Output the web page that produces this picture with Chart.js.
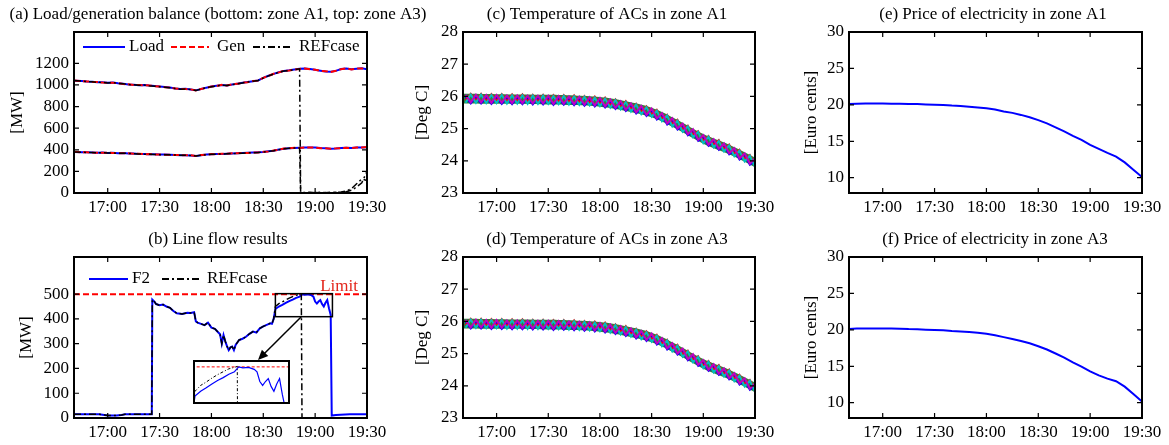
<!DOCTYPE html>
<html lang="en">
<head>
<meta charset="UTF-8">
<title>Load, line flow, AC temperature and price</title>
<script src="https://cdn.jsdelivr.net/npm/chart.js"></script>
<style>
  html, body { margin: 0; padding: 0; background: #fff; }
  #fig { position: relative; width: 1169px; height: 445px; overflow: hidden; }
  #fig canvas { position: absolute; }
</style>
</head>
<body>
<div id="fig">
  <canvas id="cA"></canvas>
  <canvas id="cB"></canvas>
  <canvas id="cInset"></canvas>
  <canvas id="cC"></canvas>
  <canvas id="cD"></canvas>
  <canvas id="cE"></canvas>
  <canvas id="cF"></canvas>
</div>
<script>
// time is in minutes after 17:00
const X_MIN = -19.5, X_MAX = 150;
const xTicks = [0, 30, 60, 90, 120, 150];

// (a) load / generation, 3-minute samples
const loadTimes = [-19.5, -15, -12, -9, -6, -3, 0, 3, 6, 9, 12, 15, 18, 21, 24, 27, 30, 33, 36, 39, 42, 45, 48, 51, 54, 57,
  60, 63, 66, 69, 72, 75, 78, 81, 84, 87, 90, 93, 96, 99, 102, 105, 108, 111, 114, 117, 120, 123, 126, 129, 132, 135,
  138, 141, 144, 147, 150];
const loadA3 = [1040, 1036, 1032, 1030, 1026, 1024, 1020, 1022, 1015, 1010, 1005, 1002, 998, 1000, 994, 990, 985, 980,
  976, 968, 962, 964, 958, 950, 962, 975, 985, 992, 1000, 996, 1005, 1012, 1020, 1028, 1035, 1042, 1065, 1085, 1102,
  1118, 1130, 1135, 1142, 1150, 1152, 1148, 1140, 1132, 1125, 1122, 1130, 1148, 1152, 1146, 1150, 1155, 1145];
const genA3 = [1042, 1034, 1033, 1028, 1027, 1022, 1021, 1020, 1016, 1008, 1006, 1000, 999, 998, 995, 988, 986, 978,
  977, 966, 963, 962, 959, 948, 963, 973, 986, 990, 1001, 994, 1006, 1010, 1021, 1026, 1036, 1040, 1066, 1083, 1103,
  1116, 1131, 1133, 1143, 1148, 1153, 1146, 1141, 1130, 1126, 1120, 1131, 1146, 1153, 1144, 1151, 1153, 1146];
const loadA1 = [380, 378, 376, 375, 372, 374, 371, 372, 368, 370, 366, 365, 362, 360, 359, 358, 356, 356, 354, 352,
  350, 350, 348, 343, 350, 356, 359, 360, 362, 364, 366, 368, 370, 372, 374, 376, 380, 386, 392, 402, 410, 415, 417,
  418, 420, 422, 420, 416, 414, 410, 412, 416, 418, 416, 420, 422, 424];
const genA1 = [381, 377, 377, 374, 373, 373, 372, 371, 369, 369, 367, 364, 363, 359, 360, 357, 357, 355, 355, 351,
  351, 349, 349, 342, 351, 355, 360, 359, 363, 363, 367, 367, 371, 371, 375, 375, 381, 385, 393, 401, 411, 414, 418,
  417, 421, 421, 421, 415, 415, 409, 413, 415, 419, 415, 421, 421, 425];
const refTimes = [-19.5, -15, -12, -9, -6, -3, 0, 3, 6, 9, 12, 15, 18, 21, 24, 27, 30, 33, 36, 39, 42, 45, 48, 51, 54, 57,
  60, 63, 66, 69, 72, 75, 78, 81, 84, 87, 90, 93, 96, 99, 102, 105, 108, 111, 111.6, 114, 117, 120, 123, 126, 129, 132,
  135, 138, 141, 144, 147, 150];
const refA3 = [1041, 1035, 1031, 1029, 1025, 1023, 1019, 1021, 1014, 1011, 1004, 1001, 997, 999, 993, 989, 984, 979,
  975, 967, 961, 963, 957, 949, 961, 974, 984, 991, 999, 995, 1004, 1011, 1019, 1027, 1034, 1041, 1064, 1084, 1101,
  1117, 1129, 1134, 1141, 1149, 8, 4, 7, 3, 6, 2, 7, 4, 9, 18, 40, 85, 130, 115];
const refA1 = [379, 377, 375, 374, 371, 373, 370, 371, 367, 369, 365, 364, 361, 359, 358, 357, 355, 355, 353, 351,
  349, 349, 347, 342, 349, 355, 358, 359, 361, 363, 365, 367, 369, 371, 373, 375, 379, 385, 391, 401, 409, 414, 416,
  417, 3, 2, 1, 5, 2, 4, 1, 6, 3, 12, 25, 55, 95, 200];

// (b) line flow
const flowTimes = [-19.5, -5, -2, 0, 5, 8, 10, 25.5, 25.8, 27, 28, 30, 32, 34, 36, 38, 40, 43, 46, 48, 50, 51, 52, 54,
  56, 58, 60, 62, 64, 65, 66, 67, 68, 69, 70, 71, 72, 73, 74, 76, 78, 80, 82, 84, 86, 88, 90, 92, 94, 95, 96, 97, 99,
  101, 103, 105, 107, 109, 111, 112.5, 114, 116, 118, 119, 120, 121, 122, 123, 124, 125, 126, 127, 128, 129, 129.6,
  132, 140, 150];
const flowF2 = [15, 15, 12, 10, 10, 12, 15, 15, 478, 470, 460, 455, 458, 450, 445, 432, 423, 420, 425, 424, 427, 390,
  385, 380, 375, 385, 365, 360, 345, 338, 300, 335, 310, 290, 274, 285, 288, 274, 295, 315, 320, 328, 340, 349, 345,
  362, 370, 376, 382, 380, 400, 440, 450, 457, 465, 472, 478, 485, 490, 500, 498, 499, 495, 490, 470, 462, 470, 476,
  460, 450, 465, 476, 443, 416, 10, 12, 15, 15];
const refFlowTimes = [-19.5, -5, -2, 0, 5, 8, 10, 25.5, 25.8, 27, 28, 30, 32, 34, 36, 38, 40, 43, 46, 48, 50, 51, 52,
  54, 56, 58, 60, 62, 64, 65, 66, 67, 68, 69, 70, 71, 72, 73, 74, 76, 78, 80, 82, 84, 86, 88, 90, 92, 94, 95, 96, 97,
  99, 101, 103, 105, 107, 109, 111, 112, 112.4, 150];
const refFlow = [15, 15, 12, 10, 10, 12, 15, 15, 478, 470, 460, 455, 458, 450, 445, 432, 423, 420, 425, 424, 427, 390,
  385, 380, 375, 385, 365, 360, 345, 338, 300, 335, 310, 290, 274, 285, 288, 274, 295, 315, 320, 328, 340, 349, 345,
  362, 370, 376, 382, 380, 400, 450, 462, 469, 477, 484, 490, 496, 499, 501, 0, 0];
const limitTimes = [X_MIN, X_MAX];
const limitVals = [500, 500];
const zoomX = [97, 130];      // boxed window in (b)
const zoomY = [409, 502];
const insetY = [428, 510];    // value range shown in the inset

// (c), (d) AC temperatures
const tempTimes = [-18, -15, -12, -9, -6, -3, 0, 3, 6, 9, 12, 15, 18, 21, 24, 27, 30, 33, 36, 39, 42, 45, 48, 51, 54,
  57, 60, 63, 66, 69, 72, 75, 78, 81, 84, 87, 90, 93, 96, 99, 102, 105, 108, 111, 114, 117, 120, 123, 126, 129, 132,
  135, 138, 141, 144, 147, 150];
const tempMagenta = [26.05, 25.81, 26.05, 25.81, 26.04, 25.80, 26.04, 25.80, 26.03, 25.79, 26.03, 25.79, 26.02, 25.78,
  26.02, 25.78, 26.02, 25.77, 26.01, 25.77, 26.00, 25.76, 25.99, 25.74, 25.97, 25.72, 25.95, 25.69, 25.90, 25.64,
  25.85, 25.58, 25.78, 25.50, 25.70, 25.42, 25.62, 25.31, 25.48, 25.16, 25.32, 25.00, 25.15, 24.82, 24.98, 24.65,
  24.80, 24.50, 24.67, 24.37, 24.54, 24.23, 24.39, 24.07, 24.23, 23.91, 24.07];
const tempCyan = [25.80, 26.06, 25.80, 26.06, 25.79, 26.05, 25.79, 26.05, 25.78, 26.04, 25.78, 26.04, 25.77, 26.03,
  25.77, 26.03, 25.77, 26.02, 25.76, 26.02, 25.75, 26.01, 25.74, 25.99, 25.72, 25.97, 25.70, 25.94, 25.65, 25.89,
  25.60, 25.83, 25.53, 25.75, 25.45, 25.67, 25.37, 25.56, 25.23, 25.41, 25.07, 25.25, 24.90, 25.07, 24.73, 24.90,
  24.55, 24.75, 24.42, 24.62, 24.29, 24.48, 24.14, 24.32, 23.98, 24.16, 23.82];
const tempBlue = [25.97, 25.77, 25.97, 25.77, 25.96, 25.76, 25.96, 25.76, 25.95, 25.75, 25.95, 25.75, 25.94, 25.74,
  25.94, 25.74, 25.94, 25.73, 25.93, 25.73, 25.92, 25.72, 25.91, 25.70, 25.89, 25.68, 25.87, 25.65, 25.82, 25.60,
  25.77, 25.54, 25.70, 25.46, 25.62, 25.38, 25.54, 25.27, 25.40, 25.12, 25.24, 24.96, 25.07, 24.78, 24.90, 24.61,
  24.72, 24.46, 24.59, 24.33, 24.46, 24.19, 24.31, 24.03, 24.15, 23.87, 23.99];
const tempRed = [25.88, 26.09, 25.88, 26.09, 25.87, 26.08, 25.87, 26.08, 25.86, 26.07, 25.86, 26.07, 25.85, 26.06,
  25.85, 26.06, 25.85, 26.05, 25.84, 26.05, 25.83, 26.04, 25.82, 26.02, 25.80, 26.00, 25.78, 25.97, 25.73, 25.92,
  25.68, 25.86, 25.61, 25.78, 25.53, 25.70, 25.45, 25.59, 25.31, 25.44, 25.15, 25.28, 24.98, 25.10, 24.81, 24.93,
  24.63, 24.78, 24.50, 24.65, 24.37, 24.51, 24.22, 24.35, 24.06, 24.19, 23.90];
const bandTimes = [-19.5, 0, 30, 45, 60, 75, 90, 105, 120, 135, 150];
const bandHi = [26.08, 26.07, 26.05, 26.03, 25.98, 25.85, 25.65, 25.27, 24.83, 24.50, 24.10];
const bandLo = [25.78, 25.77, 25.75, 25.73, 25.68, 25.55, 25.35, 24.97, 24.53, 24.20, 23.80];

// (e), (f) price
const priceTimes = [-20, -15, -10, -5, 0, 5, 10, 15, 20, 25, 30, 35, 40, 45, 50, 55, 60, 65, 70, 75, 80, 85, 90, 95,
  100, 105, 110, 115, 120, 125, 130, 135, 140, 145, 150];
const priceA1 = [20.10, 20.15, 20.20, 20.18, 20.20, 20.15, 20.16, 20.12, 20.10, 20.05, 20.02, 19.98, 19.90, 19.85,
  19.75, 19.65, 19.52, 19.35, 19.10, 18.90, 18.62, 18.30, 17.90, 17.45, 16.90, 16.35, 15.75, 15.20, 14.50, 13.95,
  13.40, 12.90, 12.10, 11.10, 10.10];
const priceA3 = [20.12, 20.18, 20.20, 20.20, 20.20, 20.18, 20.15, 20.10, 20.08, 20.02, 19.98, 19.95, 19.85, 19.78,
  19.70, 19.60, 19.45, 19.25, 19.00, 18.75, 18.48, 18.15, 17.75, 17.30, 16.75, 16.20, 15.55, 14.95, 14.30, 13.75,
  13.30, 12.95, 12.20, 11.20, 10.15];

const FONT = '"Liberation Serif", "Times New Roman", serif';
const DASH = [6, 3];
const DASHDOT = [7, 3, 2, 3];

function xy(ts, vs) {
    return ts.map((t, i) => ({ x: t, y: vs[i] }));
}

function ln(data, color, width, dash, more) {
    return Object.assign({
        data: data, borderColor: color, borderWidth: width, borderDash: dash || [],
        pointRadius: 0, fill: false, tension: 0
    }, more || {});
}

function hhmm(v) {
    const m = 17 * 60 + v;
    return Math.floor(m / 60) + ':' + String(m % 60).padStart(2, '0');
}

// page-coordinate layout of titles, y labels and legends
const cfgs = {
    cA: { title: '(a) Load/generation balance (bottom: zone A1, top: zone A3)', tx: 218, ty: 15, ylab: '[MW]', yx: 18,
          legend: { y: 47, items: [
              { text: 'Load', color: '#0000ff', dash: [], x1: 83, x2: 125, tx: 129 },
              { text: 'Gen', color: '#ff0000', dash: DASH, x1: 171, x2: 209, tx: 217 },
              { text: 'REFcase', color: '#000', dash: DASHDOT, x1: 253, x2: 293, tx: 299 }] } },
    cB: { title: '(b) Line flow results', tx: 218, ty: 240, ylab: '[MW]', yx: 27,
          legend: { y: 279, items: [
              { text: 'F2', color: '#0000ff', dash: [], x1: 89, x2: 128, tx: 132 },
              { text: 'REFcase', color: '#000', dash: DASHDOT, x1: 162, x2: 202, tx: 207 }] },
          extra: drawZoomMarks },
    cC: { title: '(c) Temperature of ACs in zone A1', tx: 607, ty: 15, ylab: '[Deg C]', yx: 423 },
    cD: { title: '(d) Temperature of ACs in zone A3', tx: 607, ty: 240, ylab: '[Deg C]', yx: 423 },
    cE: { title: '(e) Price of electricity in zone A1', tx: 993, ty: 15, ylab: '[Euro cents]', yx: 812 },
    cF: { title: '(f) Price of electricity in zone A3', tx: 995, ty: 240, ylab: '[Euro cents]', yx: 812 }
};

function drawZoomMarks(chart, ctx, ox, oy) {
    const sx = chart.scales.x, sy = chart.scales.y;
    ctx.fillStyle = '#e3261b';
    ctx.font = '17px ' + FONT;
    ctx.textAlign = 'right';
    ctx.textBaseline = 'middle';
    ctx.fillText('Limit', chart.chartArea.right - 9, sy.getPixelForValue(limitVals[0]) - 8);

    const x1 = sx.getPixelForValue(zoomX[0]), x2 = sx.getPixelForValue(zoomX[1]);
    const y1 = sy.getPixelForValue(zoomY[1]), y2 = sy.getPixelForValue(zoomY[0]);
    ctx.strokeStyle = '#000';
    ctx.lineWidth = 1.5;
    ctx.setLineDash([]);
    ctx.strokeRect(x1, y1, x2 - x1, y2 - y1);

    // arrow down to the inset
    const ax = sx.getPixelForValue(112), ay = y2;
    const bx = 258 - ox, by = 360 - oy;
    const ang = Math.atan2(by - ay, bx - ax);
    ctx.beginPath();
    ctx.moveTo(ax, ay);
    ctx.lineTo(bx - 8 * Math.cos(ang), by - 8 * Math.sin(ang));
    ctx.stroke();
    ctx.fillStyle = '#000';
    ctx.beginPath();
    ctx.moveTo(bx, by);
    ctx.lineTo(bx - 10 * Math.cos(ang) + 4.5 * Math.sin(ang), by - 10 * Math.sin(ang) - 4.5 * Math.cos(ang));
    ctx.lineTo(bx - 10 * Math.cos(ang) - 4.5 * Math.sin(ang), by - 10 * Math.sin(ang) + 4.5 * Math.cos(ang));
    ctx.closePath();
    ctx.fill();
}

// matlab style box, inward ticks, title, y label and legend
const frame = {
    id: 'frame',
    afterDraw(chart) {
        const c = cfgs[chart.canvas.id];
        if (!c) return;
        const ctx = chart.ctx, a = chart.chartArea, sx = chart.scales.x, sy = chart.scales.y;
        const ox = c.left, oy = c.top;
        ctx.save();
        if (c.extra) c.extra(chart, ctx, ox, oy);

        ctx.setLineDash([]);
        ctx.strokeStyle = '#000';
        ctx.lineWidth = 2;
        ctx.strokeRect(a.left, a.top, a.right - a.left, a.bottom - a.top);
        ctx.lineWidth = 1.2;
        ctx.beginPath();
        sx.ticks.forEach(t => {
            const p = sx.getPixelForValue(t.value);
            ctx.moveTo(p, a.bottom); ctx.lineTo(p, a.bottom - 5);
            ctx.moveTo(p, a.top); ctx.lineTo(p, a.top + 5);
        });
        sy.ticks.forEach(t => {
            const p = sy.getPixelForValue(t.value);
            ctx.moveTo(a.left, p); ctx.lineTo(a.left + 5, p);
            ctx.moveTo(a.right, p); ctx.lineTo(a.right - 5, p);
        });
        ctx.stroke();

        ctx.fillStyle = '#000';
        ctx.font = '17px ' + FONT;
        ctx.textAlign = 'center';
        ctx.textBaseline = 'middle';
        ctx.fillText(c.title, c.tx - ox, c.ty - oy);
        ctx.save();
        ctx.translate(c.yx - ox, (a.top + a.bottom) / 2);
        ctx.rotate(-Math.PI / 2);
        ctx.fillText(c.ylab, 0, 0);
        ctx.restore();

        if (c.legend) {
            const ly = c.legend.y - oy;
            c.legend.items.forEach(it => {
                ctx.strokeStyle = it.color;
                ctx.lineWidth = 2;
                ctx.setLineDash(it.dash);
                ctx.beginPath();
                ctx.moveTo(it.x1 - ox, ly);
                ctx.lineTo(it.x2 - ox, ly);
                ctx.stroke();
                ctx.fillStyle = '#000';
                ctx.textAlign = 'left';
                ctx.fillText(it.text, it.tx - ox, ly);
            });
        }
        ctx.restore();
    }
};

function panel(id, left, top, w, h, pad, yMin, yMax, yTicks, datasets) {
    const cv = document.getElementById(id);
    cv.width = w;
    cv.height = h;
    cv.style.left = left + 'px';
    cv.style.top = top + 'px';
    cfgs[id].left = left;
    cfgs[id].top = top;
    const tickFont = { family: FONT, size: 17 };
    return new Chart(cv, {
        type: 'line',
        data: { datasets: datasets },
        options: {
            responsive: false,
            animation: false,
            devicePixelRatio: 1,
            layout: { padding: pad },
            plugins: { legend: { display: false }, tooltip: { enabled: false } },
            scales: {
                x: {
                    type: 'linear', min: X_MIN, max: X_MAX,
                    grid: { display: false, drawTicks: false }, border: { display: false },
                    afterBuildTicks: s => { s.ticks = xTicks.map(v => ({ value: v })); },
                    afterFit: s => { s.height = 26; s.paddingLeft = 0; s.paddingRight = 0; },
                    ticks: { padding: 4, maxRotation: 0, autoSkip: false, color: '#000', font: tickFont,
                             callback: v => hhmm(v) }
                },
                y: {
                    type: 'linear', min: yMin, max: yMax,
                    grid: { display: false, drawTicks: false }, border: { display: false },
                    afterBuildTicks: s => { s.ticks = yTicks.map(v => ({ value: v })); },
                    afterFit: s => { s.width = 60; s.paddingTop = 0; s.paddingBottom = 0; },
                    ticks: { padding: 5, autoSkip: false, color: '#000', font: tickFont, callback: v => String(v) }
                }
            }
        },
        plugins: [frame]
    });
}

function tempSets() {
    return [
        ln(xy(tempTimes, tempMagenta), '#c000c0', 2),
        ln(xy(tempTimes, tempCyan), '#00bfbf', 2),
        ln(xy(tempTimes, tempRed), '#ff0000', 1.6),
        ln(xy(tempTimes, tempBlue), '#0000ff', 1.6),
        ln(xy(bandTimes, bandHi), 'rgba(0,0,0,0)', 0, [], { fill: '+1', backgroundColor: '#2f8040', tension: 0.4 }),
        ln(xy(bandTimes, bandLo), 'rgba(0,0,0,0)', 0, [], { tension: 0.4 })
    ];
}

// canvas (a) is wider so its long title can run past the column
panel('cA', 0, 0, 440, 222, { left: 14, right: 73, top: 32, bottom: 3 }, 0, 1490, [0, 200, 400, 600, 800, 1000, 1200], [
    ln(xy(refTimes, refA3), '#000', 1.5, DASHDOT),
    ln(xy(refTimes, refA1), '#000', 1.5, DASHDOT),
    ln(xy(loadTimes, genA3), '#ff0000', 2, DASH),
    ln(xy(loadTimes, genA1), '#ff0000', 2, DASH),
    ln(xy(loadTimes, loadA3), '#0000ff', 2),
    ln(xy(loadTimes, loadA1), '#0000ff', 2)
]);

panel('cB', 0, 225, 390, 220, { left: 14, right: 23, top: 32, bottom: 1 }, 0, 650, [0, 100, 200, 300, 400, 500], [
    ln(xy(refFlowTimes, refFlow), '#000', 1.5, DASHDOT),
    ln(xy(flowTimes, flowF2), '#0000ff', 2),
    ln(xy(limitTimes, limitVals), '#ff0000', 2, DASH)
]);

panel('cC', 390, 0, 390, 222, { left: 13, right: 25, top: 32, bottom: 3 }, 23, 28, [23, 24, 25, 26, 27, 28], tempSets());
panel('cD', 390, 225, 390, 220, { left: 13, right: 25, top: 32, bottom: 1 }, 23, 28, [23, 24, 25, 26, 27, 28], tempSets());

panel('cE', 780, 0, 389, 222, { left: 9, right: 27, top: 32, bottom: 3 }, 7.9, 30, [10, 15, 20, 25, 30], [
    ln(xy(priceTimes, priceA1), '#0000ff', 2)
]);
panel('cF', 780, 225, 389, 220, { left: 9, right: 27, top: 32, bottom: 1 }, 7.9, 30, [10, 15, 20, 25, 30], [
    ln(xy(priceTimes, priceA3), '#0000ff', 2)
]);

// zoomed inset of panel (b)
(function () {
    const cv = document.getElementById('cInset');
    cv.width = 97;
    cv.height = 44;
    cv.style.left = '193px';
    cv.style.top = '360px';
    new Chart(cv, {
        type: 'line',
        data: { datasets: [
            ln(xy(refFlowTimes, refFlow), '#000', 1, [3, 2, 1, 2]),
            ln(xy(flowTimes, flowF2), '#0000ff', 1.2),
            ln(xy(limitTimes, limitVals), '#ff0000', 1, [3, 2])
        ] },
        options: {
            responsive: false, animation: false, devicePixelRatio: 1,
            layout: { padding: 2 },
            plugins: { legend: { display: false }, tooltip: { enabled: false } },
            scales: {
                x: { type: 'linear', display: false, min: zoomX[0], max: zoomX[1] },
                y: { type: 'linear', display: false, min: insetY[0], max: insetY[1] }
            }
        },
        plugins: [{
            id: 'insetBox',
            beforeDraw(chart) {
                chart.ctx.save();
                chart.ctx.fillStyle = '#fff';
                chart.ctx.fillRect(0, 0, chart.width, chart.height);
                chart.ctx.restore();
            },
            afterDraw(chart) {
                const ctx = chart.ctx;
                ctx.save();
                ctx.strokeStyle = '#000';
                ctx.lineWidth = 2;
                ctx.strokeRect(1, 1, chart.width - 2, chart.height - 2);
                ctx.restore();
            }
        }]
    });
})();
</script>
</body>
</html>
